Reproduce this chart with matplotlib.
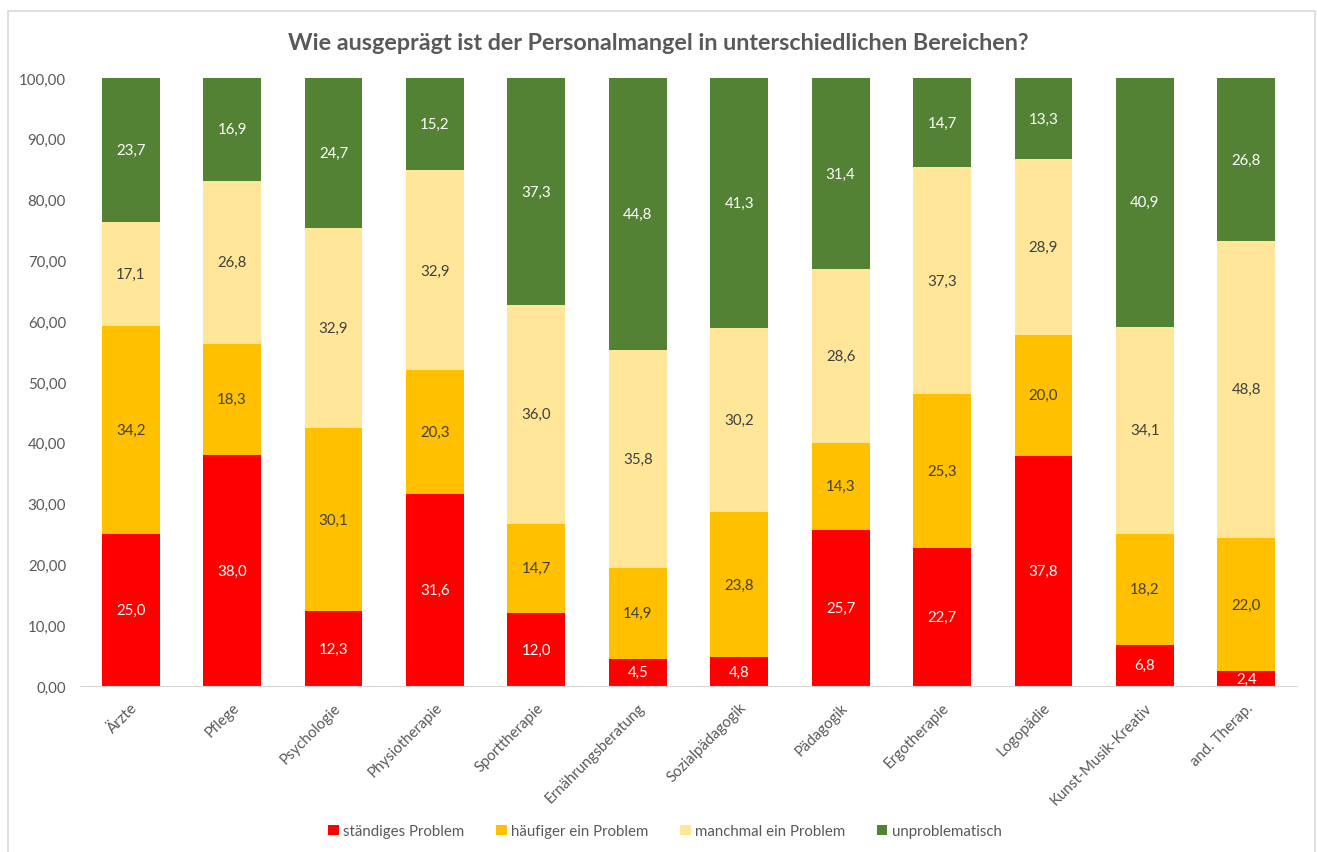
import matplotlib.pyplot as plt
from matplotlib.patches import Rectangle
import numpy as np

plt.rcParams['font.family'] = ['Lato', 'DejaVu Sans']

bereiche = ['Ärzte', 'Pflege', 'Psychologie', 'Physiotherapie', 'Sporttherapie',
            'Ernährungsberatung', 'Sozialpädagogik', 'Pädagogik', 'Ergotherapie',
            'Logopädie', 'Kunst-Musik-Kreativ', 'and. Therap.']
staendig = [25.0, 38.0, 12.3, 31.6, 12.0, 4.5, 4.8, 25.7, 22.7, 37.8, 6.8, 2.4]
haeufiger = [34.2, 18.3, 30.1, 20.3, 14.7, 14.9, 23.8, 14.3, 25.3, 20.0, 18.2, 22.0]
manchmal = [17.1, 26.8, 32.9, 32.9, 36.0, 35.8, 30.2, 28.6, 37.3, 28.9, 34.1, 48.8]
unproblematisch = [23.7, 16.9, 24.7, 15.2, 37.3, 44.8, 41.3, 31.4, 14.7, 13.3, 40.9, 26.8]

serien = [
    ('ständiges Problem', staendig, '#FF0000', 'white'),
    ('häufiger ein Problem', haeufiger, '#FFC000', '#404040'),
    ('manchmal ein Problem', manchmal, '#FFE699', '#404040'),
    ('unproblematisch', unproblematisch, '#548235', 'white'),
]

grau = '#595959'
fig = plt.figure(figsize=(13.17, 8.53), dpi=100)
fig.patches.append(Rectangle((8 / 1317, -0.01), 1307 / 1317, 1 - 12 / 853 + 0.01,
                             transform=fig.transFigure, fill=False,
                             edgecolor='#D9D9D9', linewidth=1.2))
ax = fig.add_axes([80 / 1317, 1 - 687 / 853, 1217 / 1317, 608 / 853])

x = np.arange(len(bereiche))
unten = np.zeros(len(bereiche))
for name, werte, farbe, textfarbe in serien:
    werte = np.array(werte)
    bars = ax.bar(x, werte, 0.57, bottom=unten, color=farbe, label=name)
    for xi, b, w in zip(x, unten, werte):
        ax.text(xi, b + w / 2, f'{w:.1f}'.replace('.', ','), ha='center', va='center',
                color=textfarbe, fontsize=10.8)
    unten += werte

ax.set_xlim(-0.5, len(bereiche) - 0.5)
ax.set_ylim(0, 100)
ax.set_yticks(np.arange(0, 101, 10))
ax.set_yticklabels([f'{v:.2f}'.replace('.', ',') for v in np.arange(0, 101, 10)])
ax.set_xticks(x)
ax.set_xticklabels(bereiche, rotation=45, ha='right', rotation_mode='anchor')
ax.tick_params(axis='both', length=0, colors=grau, labelsize=10.8)
ax.tick_params(axis='y', pad=10)
ax.tick_params(axis='x', pad=10)
for s in ['top', 'right', 'left']:
    ax.spines[s].set_visible(False)
ax.spines['bottom'].set_color('#D9D9D9')

fig.text(0.5, 1 - 43 / 853, 'Wie ausgeprägt ist der Personalmangel in unterschiedlichen Bereichen?',
         ha='center', va='center', fontsize=16.8, fontweight='bold', color=grau)

ax.legend(loc='center', bbox_to_anchor=(665 / 1317, 1 - 832 / 853), bbox_transform=fig.transFigure,
          ncol=4, frameon=False, fontsize=10.8, handlelength=0.7, handleheight=0.7,
          handletextpad=0.3, columnspacing=2.1, labelcolor=grau)

fig.savefig('out.png', dpi=100)
